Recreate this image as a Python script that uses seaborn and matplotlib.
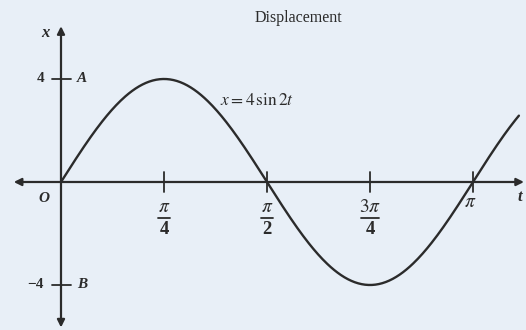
import numpy as np
import pandas as pd
import matplotlib
matplotlib.use("Agg")
import matplotlib.pyplot as plt
import seaborn as sns

# Simple harmonic motion: x = A sin(omega t)
amplitude = 4
omega = 2
t_end = np.pi + 0.35
title = "Displacement"
curve_label = r"$x = 4\,\sin 2t$"

t_ticks = [np.pi / 4, np.pi / 2, 3 * np.pi / 4, np.pi]
t_tick_num = [r"$\pi$", r"$\pi$", r"$3\pi$", r"$\pi$"]
t_tick_den = ["4", "2", "4", None]
x_ticks = [4, -4]
x_tick_labels = ["4", "\u22124"]
x_tick_names = ["A", "B"]

t = np.linspace(0, t_end, 400)
df = pd.DataFrame({"t": t, "x": amplitude * np.sin(omega * t)})

sns.set_theme(style="white")
plt.rcParams["font.family"] = ["Liberation Serif", "DejaVu Serif"]
plt.rcParams["mathtext.fontset"] = "stix"

bg = "#e8eff7"
ink = "#2b2b2b"

fig = plt.figure(figsize=(5.26, 3.30), dpi=100, facecolor=bg)
ax = fig.add_axes([0, 0, 1, 1])
ax.set_facecolor(bg)
ax.set_xlim(-0.4651, 3.5457)
ax.set_ylim(-5.748, 7.068)
ax.axis("off")

# axes with arrowheads
ax.annotate("", xy=(3.53, 0), xytext=(-0.36, 0),
            arrowprops=dict(arrowstyle="<|-|>", color=ink, lw=1.6,
                            mutation_scale=11, shrinkA=0, shrinkB=0))
ax.annotate("", xy=(0, 6.05), xytext=(0, -5.65),
            arrowprops=dict(arrowstyle="<|-|>", color=ink, lw=1.6,
                            mutation_scale=11, shrinkA=0, shrinkB=0))

sns.lineplot(data=df, x="t", y="x", ax=ax, color=ink, lw=1.7, legend=False)

# tick marks and stacked-fraction labels on the t axis
for tk, num, den in zip(t_ticks, t_tick_num, t_tick_den):
    ax.plot([tk, tk], [-0.39, 0.39], color=ink, lw=1.3)
    if den is None:
        ax.text(tk - 0.02, -0.78, num, ha="center", va="center", fontsize=14,
                color=ink)
        continue
    half = 0.072 if len(num) > 5 else 0.045
    ax.text(tk, -1.0, num, ha="center", va="center", fontsize=14, color=ink)
    ax.plot([tk - half, tk + half], [-1.4, -1.4], color=ink, lw=1.3)
    ax.text(tk, -1.85, den, ha="center", va="center", fontsize=13.5,
            color=ink, fontweight="bold")

# tick marks on x axis
for v, lab, name in zip(x_ticks, x_tick_labels, x_tick_names):
    ax.plot([-0.072, 0.075], [v, v], color=ink, lw=1.3)
    ax.text(-0.13, v, lab, ha="right", va="center", fontsize=11, color=ink,
            fontweight="bold")
    ax.text(0.12, v, name, ha="left", va="center", fontsize=11, color=ink,
            fontstyle="italic", fontweight="bold")

ax.text(-0.12, 5.8, "x", ha="center", va="center", fontsize=12, color=ink,
        fontstyle="italic", fontweight="bold")
ax.text(3.5, -0.6, "t", ha="center", va="center", fontsize=12, color=ink,
        fontstyle="italic", fontweight="bold")
ax.text(-0.13, -0.65, "O", ha="center", va="center", fontsize=11, color=ink,
        fontstyle="italic", fontweight="bold")

ax.text(298 / 526, 0.945, title, transform=ax.transAxes, ha="center",
        va="center", fontsize=11.5, color=ink)
ax.text(1.21, 3.15, curve_label, ha="left", va="center", fontsize=12.5,
        color=ink)

fig.savefig("out.png", dpi=100, facecolor=bg)
